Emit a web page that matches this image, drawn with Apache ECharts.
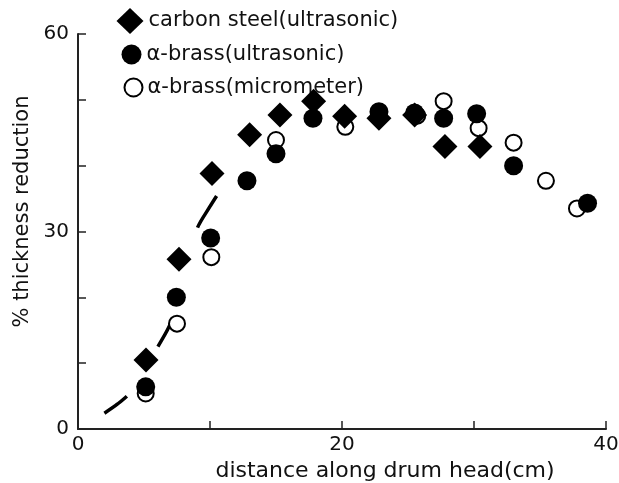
<!DOCTYPE html>
<html>
<head>
<meta charset="utf-8">
<script src="https://cdn.jsdelivr.net/npm/echarts@6/dist/echarts.min.js"></script>
<style>
html,body{margin:0;padding:0;background:#fff;}
#c{width:619px;height:483px;}
</style>
</head>
<body>
<div id="c"></div>
<script>
// Carbon steel (ultrasonic) - filled diamonds
var steelX = [5.15, 7.65, 10.15, 13.0, 15.3, 17.85, 20.2, 22.8, 25.5, 27.8, 30.45];
var steelY = [10.5, 25.8, 38.8, 44.7, 47.7, 49.8, 47.5, 47.2, 47.7, 42.9, 42.9];
// alpha-brass (ultrasonic) - filled circles
var brassUX = [5.13, 7.45, 10.05, 12.8, 15.0, 17.8, 22.8, 25.5, 27.7, 30.2, 33.0, 38.6];
var brassUY = [6.4, 20.0, 29.0, 37.7, 41.8, 47.2, 48.2, 48.0, 47.2, 47.9, 40.0, 34.3];
// alpha-brass (micrometer) - open circles
var brassMX = [5.13, 7.5, 10.1, 15.0, 20.25, 25.7, 27.7, 30.35, 33.0, 35.45, 37.8];
var brassMY = [5.4, 16.0, 26.1, 43.9, 45.9, 47.6, 49.8, 45.7, 43.5, 37.7, 33.5];
// dashed guide curve
var curveX = [2, 3, 4, 5, 6, 7, 8, 9, 10, 10.5];
var curveY = [2.4, 3.8, 5.6, 8.6, 12.3, 16.0, 22.5, 30.3, 33.8, 35.4];

var seriesNames = ['carbon steel(ultrasonic)', 'α-brass(ultrasonic)', 'α-brass(micrometer)'];
var xTitle = 'distance along drum head(cm)';
var yTitle = '% thickness reduction';

function pairs(xs, ys) { return xs.map(function (x, i) { return [x, ys[i]]; }); }

var FONT = 'DejaVu Sans';
var chart = echarts.init(document.getElementById('c'), null, {renderer: 'canvas'});
var legendText = {fontFamily: FONT, fontSize: 21, color: '#111'};
chart.setOption({
  backgroundColor: '#fff',
  animation: false,
  grid: {left: 78, right: 13, top: 34, bottom: 54, containLabel: false, outerBoundsMode: 'none'},
  legend: [
    {left: 116.5, top: 8, padding: 0, itemWidth: 27, itemHeight: 26, data: [seriesNames[0]], textStyle: legendText},
    {left: 121.5, top: 44, padding: 0, itemWidth: 20, itemHeight: 26, data: [seriesNames[1]], textStyle: legendText},
    {left: 123.5, top: 77, padding: 0, itemWidth: 18, itemHeight: 26, data: [seriesNames[2]], textStyle: legendText}
  ],
  xAxis: {
    type: 'value', min: 0, max: 40, interval: 10,
    name: xTitle, nameLocation: 'middle', nameGap: 26,
    nameTextStyle: {fontFamily: FONT, fontSize: 22, color: '#111', padding: [0, 0, 0, 86]},
    axisLine: {show: true, lineStyle: {color: '#222', width: 2}},
    axisTick: {show: true, inside: true, length: 8, lineStyle: {color: '#222', width: 1.5}},
    axisLabel: {fontFamily: FONT, fontSize: 20, color: '#111', margin: 6,
      formatter: function (v) { return v % 20 === 0 ? String(v) : ''; }},
    splitLine: {show: false}
  },
  yAxis: {
    type: 'value', min: 0, max: 60, interval: 10,
    name: yTitle, nameLocation: 'middle', nameGap: 40, nameRotate: 90,
    nameTextStyle: {fontFamily: FONT, fontSize: 21, color: '#111', padding: [0, 0, 0, 40]},
    axisLine: {show: true, lineStyle: {color: '#222', width: 2}},
    axisTick: {show: true, inside: true, length: 8, lineStyle: {color: '#222', width: 1.5}},
    axisLabel: {fontFamily: FONT, fontSize: 20, color: '#111', margin: 9,
      formatter: function (v) { return v % 30 === 0 ? String(v) : ''; }},
    splitLine: {show: false}
  },
  series: [
    {
      type: 'line', data: pairs(curveX, curveY), smooth: 0.3, symbol: 'none',
      lineStyle: {color: '#000', width: 3.5, type: [28, 59, 30, 96, 40], cap: 'butt'},
      silent: true, z: 1
    },
    {
      name: seriesNames[2], type: 'scatter', data: pairs(brassMX, brassMY),
      symbol: 'circle', symbolSize: 16,
      itemStyle: {color: '#fff', borderColor: '#000', borderWidth: 2, opacity: 1}, z: 2
    },
    {
      name: seriesNames[1], type: 'scatter', data: pairs(brassUX, brassUY),
      symbol: 'circle', symbolSize: 19,
      itemStyle: {color: '#000', opacity: 1}, z: 3
    },
    {
      name: seriesNames[0], type: 'scatter', data: pairs(steelX, steelY),
      symbol: 'diamond', symbolSize: 25,
      itemStyle: {color: '#000', opacity: 1}, z: 4
    }
  ]
});
</script>
</body>
</html>
